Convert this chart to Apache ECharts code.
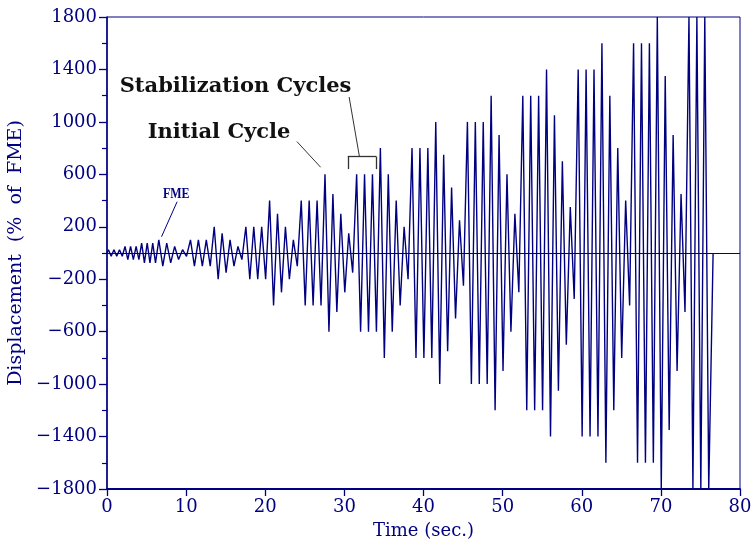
<!DOCTYPE html>
<html><head><meta charset="utf-8">
<script src="https://cdn.jsdelivr.net/npm/echarts@6/dist/echarts.min.js"></script>
<style>html,body{margin:0;padding:0;background:#fff}#c{width:751px;height:550px}</style>
</head><body><div id="c"></div>
<script>
// Turning points of the displacement history (time in s, displacement in % of FME)
const preFmeTime = [0, 0.18, 0.53, 0.88, 1.23, 1.58, 1.93, 2.28, 2.63, 2.98, 3.33, 3.68, 4.03, 4.38, 4.73, 5.08, 5.43, 5.78, 6.13];
const preFmeDisp = [0, 25, -25, 25, -25, 25, -25, 50, -50, 50, -50, 50, -50, 75, -75, 75, -75, 75, -75];

const fmeTime = [6.55,7.05,7.55,8.05,8.55,9.05,9.55,10.05,10.55,11.05,11.55,12.05,12.55,13.05,
  13.55,14.05,14.55,15.05,15.55,16.05,16.55,17.05,17.55,18.05,18.55,19.05,19.55,20.05,
  20.55,21.05,21.55,22.05,22.55,23.05,23.55,24.05,24.55,25.05,25.55,26.05,26.55,27.05];
const fmeDisp = [100,-100,75,-75,50,-50,25,-25,100,-100,100,-100,100,-100,
  200,-200,150,-150,100,-100,50,-50,200,-200,200,-200,200,-200,
  400,-400,300,-300,200,-200,100,-100,400,-400,400,-400,400,-400];

const midTime = [27.55,28.05,28.55,29.05,29.55,30.05,30.55,31.05,31.55,32.05,32.55,33.05,33.55,34.05,
  34.55,35.05,35.55,36.05,36.55,37.05,37.55,38.05,38.55,39.05,39.55,40.05,40.55,41.05,
  41.55,42.05,42.55,43.05,43.55,44.05,44.55,45.05,45.55,46.05,46.55,47.05,47.55,48.05];
const midDisp = [600,-600,450,-450,300,-300,150,-150,600,-600,600,-600,600,-600,
  800,-800,600,-600,400,-400,200,-200,800,-800,800,-800,800,-800,
  1000,-1000,750,-750,500,-500,250,-250,1000,-1000,1000,-1000,1000,-1000];

const lateTime = [48.55,49.05,49.55,50.05,50.55,51.05,51.55,52.05,52.55,53.05,53.55,54.05,54.55,55.05,
  55.55,56.05,56.55,57.05,57.55,58.05,58.55,59.05,59.55,60.05,60.55,61.05,61.55,62.05,
  62.55,63.05,63.55,64.05,64.55,65.05,65.55,66.05,66.55,67.05,67.55,68.05,68.55,69.05,
  69.55,70.05,70.55,71.05,71.55,72.05,72.55,73.05,73.55,74.05,74.55,75.05,75.55,76.05,
  76.6];
const lateDisp = [1200,-1200,900,-900,600,-600,300,-300,1200,-1200,1200,-1200,1200,-1200,
  1400,-1400,1050,-1050,700,-700,350,-350,1400,-1400,1400,-1400,1400,-1400,
  1600,-1600,1200,-1200,800,-800,400,-400,1600,-1600,1600,-1600,1600,-1600,
  1800,-1800,1350,-1350,900,-900,450,-450,1800,-1800,1800,-1800,1800,-1800,
  0];

const xTicks = [0, 10, 20, 30, 40, 50, 60, 70, 80];
const yTickLabels = [-1800, -1400, -1000, -600, -200, 200, 600, 1000, 1400, 1800];

const times = preFmeTime.concat(fmeTime, midTime, lateTime);
const disps = preFmeDisp.concat(fmeDisp, midDisp, lateDisp);
const seriesData = times.map((t, i) => [t, disps[i]]);

const NAVY = '#000080';
const FONT = "'DejaVu Serif', serif";
const chart = echarts.init(document.getElementById('c'), null, {renderer: 'canvas'});

function seg(a, b, color, width) {
  return [{coord: a, lineStyle: {color: color, width: width, type: 'solid'}}, {coord: b}];
}

chart.setOption({
  animation: false,
  backgroundColor: '#fff',
  grid: {left: 107, right: 11, top: 17, bottom: 61, show: true, borderColor: NAVY, borderWidth: 1,
    backgroundColor: 'transparent', containLabel: false, outerBoundsMode: 'none'},
  xAxis: {
    type: 'value', min: xTicks[0], max: xTicks[xTicks.length - 1], interval: 10,
    name: 'Time (sec.)', nameLocation: 'middle', nameGap: 33,
    nameTextStyle: {color: NAVY, fontFamily: FONT, fontSize: 18},
    axisLine: {show: true, onZero: false, lineStyle: {color: NAVY, width: 2}},
    axisTick: {show: true, inside: false, length: 7, lineStyle: {color: NAVY, width: 1.3}},
    axisLabel: {color: NAVY, fontFamily: FONT, fontSize: 18, margin: 9},
    splitLine: {show: false}
  },
  yAxis: {
    type: 'value', min: yTickLabels[0], max: yTickLabels[yTickLabels.length - 1], interval: 400,
    name: 'Displacement  (%  of  FME)', nameLocation: 'middle', nameGap: 77, nameRotate: 90,
    nameTextStyle: {color: NAVY, fontFamily: FONT, fontSize: 19},
    axisLine: {show: true, onZero: false, lineStyle: {color: NAVY, width: 1.5}},
    axisTick: {show: true, inside: false, length: 8, lineStyle: {color: NAVY, width: 1.3}},
    minorTick: {show: true, splitNumber: 2, length: 5, lineStyle: {color: NAVY, width: 1.2}},
    axisLabel: {color: NAVY, fontFamily: FONT, fontSize: 18, margin: 10,
      formatter: v => (v < 0 ? '\u2212' + Math.abs(v) : String(v))},
    splitLine: {show: false}, minorSplitLine: {show: false}
  },
  series: [{
    type: 'line', data: seriesData, symbol: 'none', silent: true,
    lineStyle: {color: NAVY, width: 1.4},
    markLine: {
      silent: true, symbol: 'none', label: {show: false},
      data: [
        {yAxis: 0, lineStyle: {color: NAVY, width: 1.2, type: 'solid'}},
        seg([24.0, 850], [27.0, 654], '#333', 1),
        seg([30.6, 1190], [31.9, 736], '#333', 1),
        seg([30.43, 735], [34.04, 735], '#333', 1.3),
        seg([30.43, 735], [30.43, 640], '#333', 1.3),
        seg([34.04, 735], [34.04, 640], '#333', 1.3),
        seg([8.86, 391], [6.89, 124], NAVY, 1)
      ]
    }
  }]
});

function px(p) { return chart.convertToPixel({xAxisIndex: 0, yAxisIndex: 0}, p); }
const a1 = px([1.6, 1266]), a2 = px([5.15, 915]), a3 = px([8.75, 450]);
chart.setOption({
  graphic: [
    {type: 'text', x: a1[0], y: a1[1], style: {text: 'Stabilization Cycles', fill: '#111', font: "bold 21px 'DejaVu Serif', serif", textAlign: 'left', textVerticalAlign: 'middle'}},
    {type: 'text', x: a2[0], y: a2[1], style: {text: 'Initial Cycle', fill: '#111', font: "bold 21px 'DejaVu Serif', serif", textAlign: 'left', textVerticalAlign: 'middle'}},
    {type: 'text', x: a3[0], y: a3[1], scaleX: 0.8, style: {text: 'FME', fill: NAVY, font: "bold 15px 'Liberation Serif', serif", textAlign: 'center', textVerticalAlign: 'middle'}}
  ]
});
</script></body></html>
